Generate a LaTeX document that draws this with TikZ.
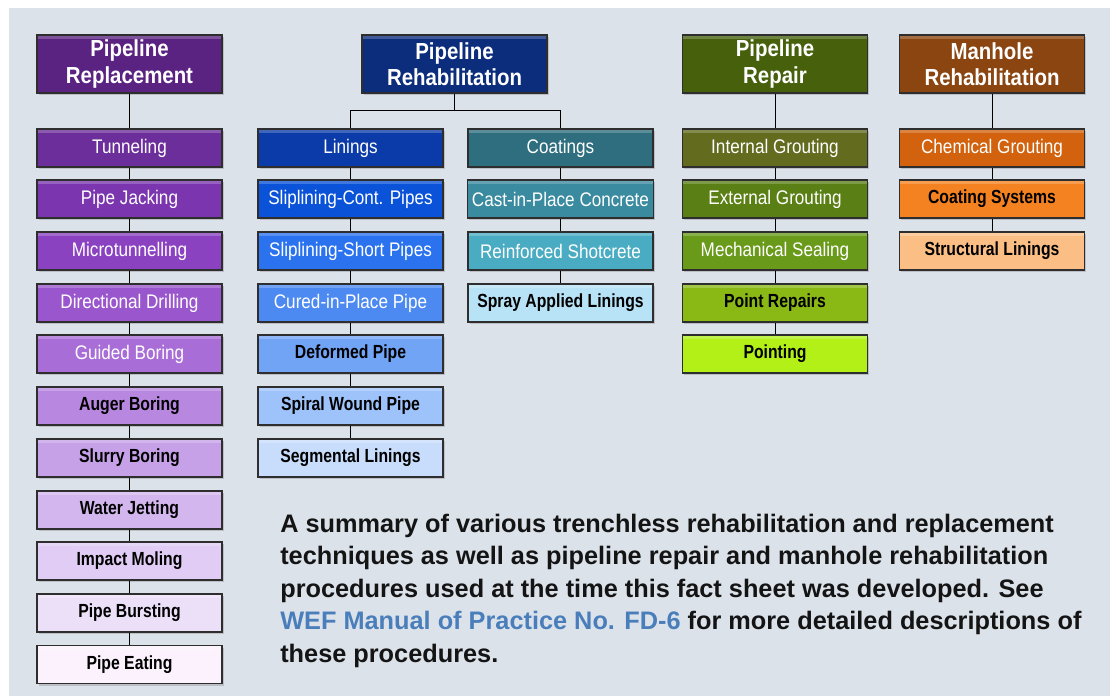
\documentclass[tikz,border=0pt]{standalone}
\usepackage{fontspec}
\setmainfont{Liberation Sans}
\newfontfamily\boxfont[FakeStretch=0.87]{Liberation Sans}
\newfontfamily\bboxfont[FakeStretch=0.83]{Liberation Sans}
\newfontfamily\headfont[FakeStretch=0.88]{Liberation Sans}
\usepackage{tikz}
\usetikzlibrary{shadows}
\usepackage[dvipsnames]{xcolor}

\definecolor{bgcol}{HTML}{DCE2EA}
\definecolor{linkcol}{HTML}{4A7EBB}
\definecolor{edgecol}{HTML}{2E2E2E}
% replacement
\definecolor{pA}{HTML}{5A2381}
\definecolor{pB}{HTML}{6C2E9B}
\definecolor{pC}{HTML}{7B35AE}
\definecolor{pD}{HTML}{8A42C0}
\definecolor{pE}{HTML}{9A56CC}
\definecolor{pF}{HTML}{A86DD6}
\definecolor{pG}{HTML}{B888E0}
\definecolor{pH}{HTML}{C7A1E8}
\definecolor{pI}{HTML}{D4B6EF}
\definecolor{pJ}{HTML}{E0CCF4}
\definecolor{pK}{HTML}{ECDFF8}
\definecolor{pL}{HTML}{FBF2FD}
% rehabilitation
\definecolor{bA}{HTML}{0C2C7C}
\definecolor{bB}{HTML}{0B3BA8}
\definecolor{bC}{HTML}{0A52D8}
\definecolor{bD}{HTML}{2B72EE}
\definecolor{bE}{HTML}{4C8AF1}
\definecolor{bF}{HTML}{72A4F6}
\definecolor{bG}{HTML}{9EC3FA}
\definecolor{bH}{HTML}{C8DDFC}
\definecolor{tA}{HTML}{2E6E7E}
\definecolor{tB}{HTML}{3A8AA0}
\definecolor{tC}{HTML}{49ACC2}
\definecolor{tD}{HTML}{B8E2F6}
% repair
\definecolor{gA}{HTML}{46600C}
\definecolor{gB}{HTML}{626B1E}
\definecolor{gC}{HTML}{5A7F14}
\definecolor{gD}{HTML}{6A9A1A}
\definecolor{gE}{HTML}{8AB814}
\definecolor{gF}{HTML}{B2F018}
% manhole
\definecolor{oA}{HTML}{8B4510}
\definecolor{oB}{HTML}{D2620E}
\definecolor{oC}{HTML}{F58220}
\definecolor{oD}{HTML}{FBBF85}

\tikzset{
  boxbase/.style={rectangle, draw=edgecol, line width=0.8pt, minimum width=4.625cm,
    drop shadow={shadow xshift=1.2pt, shadow yshift=-1.6pt, opacity=0.35},
    path picture={\fill[white,opacity=0.22] (path picture bounding box.north west)
      rectangle ([yshift=-3pt]path picture bounding box.north east);}},
  headbox/.style={boxbase, fill=#1, minimum height=1.45cm, text=white,
    font=\headfont\bfseries\fontsize{16.5pt}{18.5pt}\selectfont, align=center},
  darkbox/.style={boxbase, fill=#1, minimum height=0.95cm, text=white,
    font=\boxfont\fontsize{14pt}{16pt}\selectfont},
  lightbox/.style={boxbase, fill=#1, minimum height=0.95cm, text=black,
    font=\bboxfont\bfseries\fontsize{13.5pt}{16pt}\selectfont},
  link/.style={draw=black, line width=0.6pt}
}

\begin{document}
\begin{tikzpicture}[x=0.025cm,y=-0.025cm]
\useasboundingbox (0,0) rectangle (1116,696);
\fill[white] (0,0) rectangle (1116,696);
\fill[bgcol] (9,8) rectangle (1110,696);

% Pipeline Replacement
\node[headbox=pA](repl) at (129.5,64){Pipeline\\Replacement};
\node[darkbox=pB](tunnel) at (129.5,148){Tunneling};
\node[darkbox=pC](jack) at (129.5,199){Pipe Jacking};
\node[darkbox=pD](micro) at (129.5,251){Microtunnelling};
\node[darkbox=pE](drill) at (129.5,303){Directional Drilling};
\node[darkbox=pF](guided) at (129.5,354){Guided Boring};
\node[lightbox=pG](auger) at (129.5,406){Auger Boring};
\node[lightbox=pH](slurry) at (129.5,458){Slurry Boring};
\node[lightbox=pI](jet) at (129.5,510){Water Jetting};
\node[lightbox=pJ](impact) at (129.5,561){Impact Moling};
\node[lightbox=pK](burst) at (129.5,613){Pipe Bursting};
\node[lightbox=pL](eat) at (129.5,664.5){Pipe Eating};

% Pipeline Rehabilitation
\node[headbox=bA](rehab) at (454.5,64){Pipeline\\Rehabilitation};
\node[darkbox=bB](lin) at (350.5,148){Linings};
\node[darkbox=bC](slipc) at (350.5,199){Sliplining-Cont. Pipes};
\node[darkbox=bD](slips) at (350.5,251){Sliplining-Short Pipes};
\node[darkbox=bE](cipp) at (350.5,303){Cured-in-Place Pipe};
\node[lightbox=bF](deform) at (350.5,354){Deformed Pipe};
\node[lightbox=bG](spiral) at (350.5,406){Spiral Wound Pipe};
\node[lightbox=bH](segm) at (350.5,458){Segmental Linings};
\node[darkbox=tA](coat) at (560.5,148){Coatings};
\node[darkbox=tB](cast) at (560.5,199){Cast-in-Place Concrete};
\node[darkbox=tC](shot) at (560.5,251){Reinforced Shotcrete};
\node[lightbox=tD](spray) at (560.5,303){Spray Applied Linings};

% Pipeline Repair
\node[headbox=gA](repair) at (775,64){Pipeline\\Repair};
\node[darkbox=gB](intg) at (775,148){Internal Grouting};
\node[darkbox=gC](extg) at (775,199){External Grouting};
\node[darkbox=gD](mech) at (775,251){Mechanical Sealing};
\node[lightbox=gE](point) at (775,303){Point Repairs};
\node[lightbox=gF](pointing) at (775,354){Pointing};

% Manhole Rehabilitation
\node[headbox=oA](manhole) at (992,64){Manhole\\Rehabilitation};
\node[darkbox=oB](chem) at (992,148){Chemical Grouting};
\node[lightbox=oC](csys) at (992,199){Coating Systems};
\node[lightbox=oD](struct) at (992,251){Structural Linings};

\draw[link] (repl) -- (tunnel);
\draw[link] (tunnel) -- (jack);
\draw[link] (jack) -- (micro);
\draw[link] (micro) -- (drill);
\draw[link] (drill) -- (guided);
\draw[link] (guided) -- (auger);
\draw[link] (auger) -- (slurry);
\draw[link] (slurry) -- (jet);
\draw[link] (jet) -- (impact);
\draw[link] (impact) -- (burst);
\draw[link] (burst) -- (eat);

\coordinate (fork) at (454.5,110);
\draw[link] (rehab.south) -- (fork);
\draw[link] (fork) -| (lin.north);
\draw[link] (fork) -| (coat.north);
\draw[link] (lin) -- (slipc);
\draw[link] (slipc) -- (slips);
\draw[link] (slips) -- (cipp);
\draw[link] (cipp) -- (deform);
\draw[link] (deform) -- (spiral);
\draw[link] (spiral) -- (segm);
\draw[link] (coat) -- (cast);
\draw[link] (cast) -- (shot);
\draw[link] (shot) -- (spray);

\draw[link] (repair) -- (intg);
\draw[link] (intg) -- (extg);
\draw[link] (extg) -- (mech);
\draw[link] (mech) -- (point);
\draw[link] (point) -- (pointing);

\draw[link] (manhole) -- (chem);
\draw[link] (chem) -- (csys);
\draw[link] (csys) -- (struct);

\node[anchor=north west, inner sep=0pt, align=left, text=black!92,
  font=\bfseries\fontsize{18pt}{23pt}\selectfont](summary) at (280,514)
  {A summary of various trenchless rehabilitation and replacement\\
   techniques as well as pipeline repair and manhole rehabilitation\\
   procedures used at the time this fact sheet was developed. See\\
   \textcolor{linkcol}{WEF Manual of Practice No. FD-6} for more detailed descriptions of\\
   these procedures.};
\end{tikzpicture}
\end{document}
